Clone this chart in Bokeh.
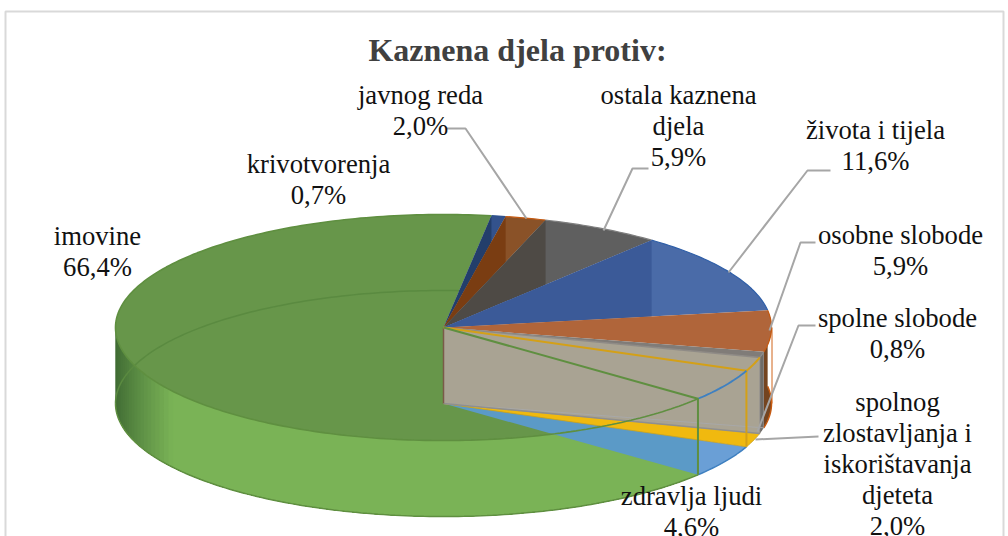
import math
from bokeh.plotting import figure
from bokeh.embed import file_html
from bokeh.resources import INLINE
from bokeh.core.properties import value

# ---- data, clockwise from the end of the "imovine" slice
categories = ["krivotvorenja", "javnog reda", "ostala kaznena djela", "života i tijela",
              "osobne slobode", "spolne slobode", "spolnog zlostavljanja i iskorištavanja djeteta",
              "zdravlja ljudi", "imovine"]
shares = [0.7, 2.0, 5.9, 11.6, 5.9, 0.8, 2.0, 4.6, 66.4]
title_text = "Kaznena djela protiv:"
label_rows = [["krivotvorenja"], ["javnog reda"], ["ostala kaznena", "djela"], ["života i tijela"],
              ["osobne slobode"], ["spolne slobode"], ["spolnog", "zlostavljanja i", "iskorištavanja", "djeteta"],
              ["zdravlja ljudi"], ["imovine"]]
top_colors = ["#33528c", "#8a5228", "#5f5f5f", "#4a6ba8", "#b0653a", "#807c78", "#a9a393", "#a9a393", "#67964a"]
dark_colors = ["#233e6b", "#7a3d12", "#4e4a45", "#3b5a98", None, None, None, None, None]
edge_colors = ["#2f528f", "#c55a11", "#7f7f7f", "#2f5fa8", "#c55a11", "#8a8a8a", "#d4a017", "#3f80c0", "#5f8f40"]

# ---- layout (pixels on the page)
W, H = 1008, 536
CX, CY, RX, RY, DEPTH = 443, 327, 328, 113, 76
START = 8.4
label_xy = [(318, 163.5), (420, 94.5), (678, 94.5), (875, 129.5), (900, 234.5), (897, 317.5), (897, 401.5), (691, 495.5), (97, 235.5)]
ROW = 31
leaders = [([446, 465, 526], [128, 128, 218]),
           ([648, 632, 603], [168, 168, 230]),
           ([830, 807, 728], [170, 170, 272]),
           ([815, 800, 769], [242, 242, 330]),
           ([815, 798, 757], [325, 325, 431]),
           ([818, 755], [436, 439])]

total = sum(shares)
bounds = [START]
for s in shares:
    bounds.append(bounds[-1] + s / total * 360)


def pt(t, z=0):
    a = math.radians(t)
    return CX + RX * math.sin(a), CY - RY * math.cos(a) + z


def arc(t0, t1, z=0, step=1.0):
    n = max(2, int(abs(t1 - t0) / step) + 1)
    ps = [pt(t0 + (t1 - t0) * i / (n - 1), z) for i in range(n)]
    return [q[0] for q in ps], [q[1] for q in ps]


def radial_at_x(t, x, z=0):
    px, py = pt(t, z)
    cy = CY + z
    return x, cy + (py - cy) * (x - CX) / (px - CX)


def mix(c0, c1, f):
    a = [int(c0[i:i + 2], 16) for i in (1, 3, 5)]
    b = [int(c1[i:i + 2], 16) for i in (1, 3, 5)]
    return "#%02x%02x%02x" % tuple(round(a[i] + (b[i] - a[i]) * f) for i in range(3))


p = figure(width=W, height=H, x_range=(0, W), y_range=(H, 0), output_backend="svg",
           toolbar_location=None, min_border=0, outline_line_color=None)
p.axis.visible = False
p.grid.visible = False

# frame
p.line([5, 5, 1003, 1003], [536, 11, 11, 536], line_color="#d9d9d9", line_width=2)

i_krv, i_jav, i_ost, i_ziv, i_oso, i_spo, i_zlo, i_zdr, i_imo = range(9)
t_b = bounds

# outer wall of imovine: nested bands, darkest (longest) first, so no seams show
t_wall0 = t_b[i_imo]
t_end = 270.0
while t_end > 230:
    x_e = pt(t_end)[0]
    f = min(1.0, max(0.0, (x_e - (CX - RX)) / 55))
    col = mix("#3f6a33", "#7ab356", f ** 0.8)
    ox, oy = arc(t_wall0, t_end)
    ux, uy = arc(t_end, t_wall0, DEPTH)
    p.patch(ox + ux, oy + uy, fill_color=col, line_color=None)
    if f >= 1.0:
        break
    t_end -= 1.5
wx, wy = arc(t_wall0, 270, DEPTH)
p.line(wx, wy, line_color=edge_colors[i_imo], line_width=1.5)

# top of imovine
ax, ay = arc(t_b[i_imo], t_b[i_imo + 1])
p.patch([CX] + ax, [CY] + ay, fill_color=top_colors[i_imo], line_color=None)

# back edge of the floor, seen through the top
bx, by = arc(-90, 3, DEPTH)
p.line(bx, by, line_color="#5a8a40", line_width=1.5)

# outer walls on the right
for i, c0, c1 in ((i_oso, "#8a4f22", "#5f3a1e"), (i_spo, "#74706c", "#6a6763")):
    t0, t1 = t_b[i], t_b[i + 1]
    ox, oy = arc(t0, t1)
    ux, uy = arc(t1, t0, DEPTH)
    p.patch(ox + ux, oy + uy, fill_color=mix(c0, c1, 0.5), line_color=None)
ex, ey = arc(t_b[i_oso], t_b[i_spo], DEPTH)
p.line(ex, ey, line_color=edge_colors[i_oso], line_width=1.5)
sx, sy = pt(90)
p.line([sx + 0.5, sx + 0.5], [sy, sy + DEPTH], line_color="#d0641a", line_width=1)

# floor pieces: zdravlja ljudi and spolnog zlostavljanja
t0, t1 = t_b[i_zdr], t_b[i_zdr + 1]
ax, ay = arc(t0, t1, DEPTH)
fx, fy = [CX] + ax, [CY + DEPTH] + ay
p.patch(fx, fy, fill_color="#5b9ac7", line_color=None)
x_cut = pt(t1)[0]
rx_, ry_ = radial_at_x(t0, x_cut, DEPTH)
p.patch([rx_] + ax, [ry_] + ay, fill_color="#6a9fd6", line_color=None)
p.line(ax, ay, line_color=edge_colors[i_zdr], line_width=1.5)

t0, t1 = t_b[i_zlo], t_b[i_zlo + 1]
ax, ay = arc(t0, t1, DEPTH)
p.patch([CX] + ax, [CY + DEPTH] + ay, fill_color="#f0b90f", line_color="#c9a227", line_width=0.8)

# back slices: top faces with the radial wall showing through
for i in (i_krv, i_jav, i_ost, i_ziv, i_oso, i_spo):
    t0, t1 = t_b[i], t_b[i + 1]
    ax, ay = arc(t0, t1)
    p.patch([CX] + ax, [CY] + ay, fill_color=top_colors[i], line_color=None)
    if dark_colors[i]:
        xs, ys = pt(t0)
        xe, ye = radial_at_x(t1, xs)
        p.patch([CX, xs, xe], [CY, ys, ye], fill_color=dark_colors[i], line_color=None)
    p.line(ax, ay, line_color=edge_colors[i], line_width=1.2)

# the cut face
t_cut = t_b[i_spo + 1]
xa, ya = pt(t_cut)
p.patch([CX, xa, xa, CX], [CY, ya, ya + DEPTH, CY + DEPTH], fill_color="#a9a393", line_color=None)
xo, yo = pt(t_b[i_spo])
p.line([CX, xo], [CY + DEPTH, yo + DEPTH], line_color="#a8a8a8", line_width=1)
p.line([CX, xa], [CY + DEPTH, ya + DEPTH], line_color="#8f8f8f", line_width=1.5)
p.line([CX, xa], [CY, ya], line_color="#8f8b86", line_width=1.5)
p.line([xa, xa], [ya, ya + DEPTH], line_color="#8f8b86", line_width=1)
p.line([CX, CX], [CY, CY + DEPTH], line_color="#7a5a48", line_width=1.5)

# outlines seen through the cut face
ty, tz = pt(t_b[i_zlo + 1])
p.line([CX, ty, ty], [CY, tz, tz + DEPTH], line_color=edge_colors[i_zlo], line_width=2)
ax, ay = arc(t_b[i_zlo], t_b[i_zlo + 1])
p.line(ax, ay, line_color=edge_colors[i_zlo], line_width=2)
ax, ay = arc(t_b[i_zdr], t_b[i_zdr + 1])
p.line(ax, ay, line_color=edge_colors[i_zdr], line_width=1.8)
ty, tz = pt(t_b[i_imo])
p.line([CX, ty, ty], [CY, tz, tz + DEPTH], line_color=edge_colors[i_imo], line_width=2)
ax, ay = arc(t_b[i_imo], t_b[i_imo + 1])
p.line(ax, ay, line_color=edge_colors[i_imo], line_width=1.6)

# leader lines
for xs, ys in leaders:
    p.line(xs, ys, line_color="#a6a6a6", line_width=2)

# texts
serif = value("Liberation Serif")
p.text([517], [49], text=[title_text], text_font=serif, text_font_size="32px", text_font_style="bold",
       text_color="#404040", text_align="center", text_baseline="middle")
for rows, s, (lx_, ly_) in zip(label_rows, shares, label_xy):
    lines = rows + [f"{s:.1f}%".replace(".", ",")]
    for k, line in enumerate(lines):
        p.text([lx_], [ly_ + k * ROW], text=[line], text_font=serif, text_font_size="26.67px",
               text_color="#111111", text_align="center", text_baseline="middle")

open("out.html", "w").write(file_html(p, INLINE))
